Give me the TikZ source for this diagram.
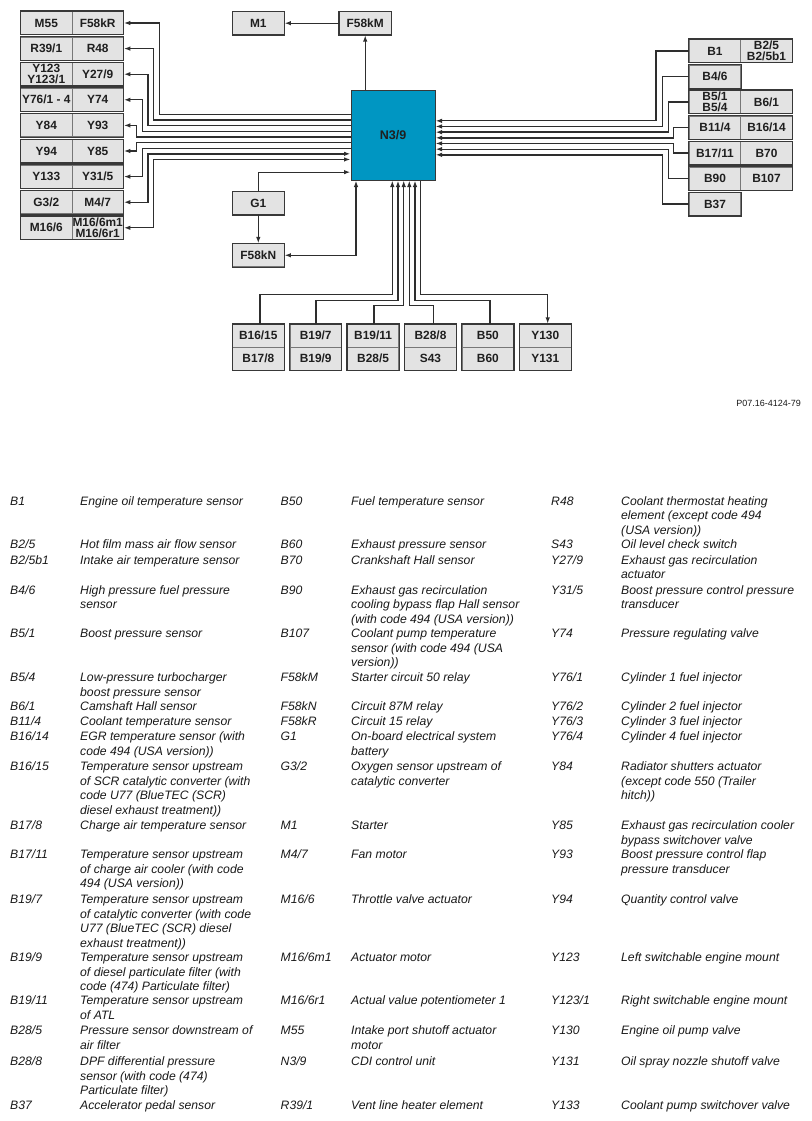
\documentclass[tikz,border=0pt]{standalone}
\usepackage{fontspec}
\setmainfont{Liberation Sans}
\usetikzlibrary{arrows.meta,calc}
\definecolor{boxfill}{HTML}{E3E3E3}
\definecolor{boxline}{HTML}{777777}
\definecolor{frameline}{HTML}{383838}
\definecolor{wirec}{HTML}{2E2E2E}
\definecolor{ecu}{HTML}{0096C2}
\tikzset{
  cell/.style={draw=boxline, line width=0.8pt, fill=boxfill, minimum width=51.5pt, minimum height=23pt,
    inner sep=0pt, align=center, text=black!88, font=\fontsize{11.9}{10.7}\selectfont\bfseries},
  frame/.style={draw=frameline, line width=1.2pt},
  wire/.style={draw=wirec, line width=1.3pt},
  ecubox/.style={draw=frameline, line width=1pt, fill=ecu, minimum width=84pt, minimum height=89.7pt,
    inner sep=0pt, text=black!88, font=\fontsize{12.5}{14}\selectfont\bfseries},
  lcode/.style={anchor=base west, inner sep=0pt, text=black!90, font=\fontsize{12.2}{14.5}\selectfont\itshape},
  ldesc/.style={anchor=north west, inner sep=0pt, align=left, text=black!90, font=\fontsize{12.2}{14.5}\selectfont\itshape},
  ref/.style={anchor=base east, inner sep=0pt, text=black!90, font=\fontsize{9}{10}\selectfont},
  >={Latex[length=6.5pt,width=4.5pt]}
}
\newcommand{\frameit}[2]{\draw[frame] (#1.north west) rectangle (#2.south east);}
% id, x code, x desc, baseline, code, description
\newcommand{\lrow}[6]{\node[lcode] (#1) at (#2,#4) {#5};
  \node[ldesc] (#1d) at (#3,#4-10.15) {\strut #6};}
\begin{document}
\begin{tikzpicture}[x=1pt,y=-1pt]
\useasboundingbox (0,0) rectangle (811,1121);

% ---------- central unit ----------
\node[ecubox] (n39) at (393,135.15) {N3/9};

% ---------- left boxes ----------
\node[cell] (m55)  at (46.3,23)    {M55};
\node[cell] (f58kr) at (97.7,23)   {F58kR};
\node[cell] (r391) at (46.3,48.6)  {R39/1};
\node[cell] (r48)  at (97.7,48.6)  {R48};
\node[cell] (y123) at (46.3,74.2)  {Y123\\Y123/1};
\node[cell] (y279) at (97.7,74.2)  {Y27/9};
\node[cell] (y761) at (46.3,99.8)  {Y76/1 - 4};
\node[cell] (y74)  at (97.7,99.8)  {Y74};
\node[cell] (y84)  at (46.3,125.4) {Y84};
\node[cell] (y93)  at (97.7,125.4) {Y93};
\node[cell] (y94)  at (46.3,151)   {Y94};
\node[cell] (y85)  at (97.7,151)   {Y85};
\node[cell] (y133) at (46.3,176.6) {Y133};
\node[cell] (y315) at (97.7,176.6) {Y31/5};
\node[cell] (g32)  at (46.3,202.2) {G3/2};
\node[cell] (m47)  at (97.7,202.2) {M4/7};
\node[cell] (m166) at (46.3,227.8) {M16/6};
\node[cell] (m166m1) at (97.7,227.8) {M16/6m1\\M16/6r1};
\frameit{m55}{f58kr}\frameit{r391}{r48}\frameit{y123}{y279}\frameit{y761}{y74}
\frameit{y84}{y93}\frameit{y94}{y85}\frameit{y133}{y315}\frameit{g32}{m47}\frameit{m166}{m166m1}

% ---------- right boxes ----------
\node[cell] (b1)    at (715,51)    {B1};
\node[cell] (b25)   at (766.5,51)  {B2/5\\B2/5b1};
\node[cell] (b46)   at (715,76.5)  {B4/6};
\node[cell] (b51)   at (715,102)   {B5/1\\B5/4};
\node[cell] (b61)   at (766.5,102) {B6/1};
\node[cell] (b114)  at (715,127.5) {B11/4};
\node[cell] (b1614) at (766.5,127.5) {B16/14};
\node[cell] (b1711) at (715,153)   {B17/11};
\node[cell] (b70)   at (766.5,153) {B70};
\node[cell] (b90)   at (715,178.5) {B90};
\node[cell] (b107)  at (766.5,178.5) {B107};
\node[cell] (b37)   at (715,204)   {B37};
\frameit{b1}{b25}\frameit{b46}{b46}\frameit{b51}{b61}\frameit{b114}{b1614}
\frameit{b1711}{b70}\frameit{b90}{b107}\frameit{b37}{b37}

% ---------- top / middle boxes ----------
\node[cell] (m1)    at (258.3,23.2) {M1};
\node[cell] (f58km) at (365.2,23.2) {F58kM};
\node[cell] (g1)    at (258.3,203)  {G1};
\node[cell] (f58kn) at (258.3,255.3) {F58kN};
\frameit{m1}{m1}\frameit{f58km}{f58km}\frameit{g1}{g1}\frameit{f58kn}{f58kn}

% ---------- bottom boxes ----------
\node[cell] (b1615) at (258.3,335.8) {B16/15};
\node[cell] (b178)  at (258.3,358.7) {B17/8};
\node[cell] (b197)  at (315.7,335.8) {B19/7};
\node[cell] (b199)  at (315.7,358.7) {B19/9};
\node[cell] (b1911) at (373.1,335.8) {B19/11};
\node[cell] (b285)  at (373.1,358.7) {B28/5};
\node[cell] (b288)  at (430.5,335.8) {B28/8};
\node[cell] (s43)   at (430.5,358.7) {S43};
\node[cell] (b50)   at (487.9,335.8) {B50};
\node[cell] (b60)   at (487.9,358.7) {B60};
\node[cell] (y130)  at (545.3,335.8) {Y130};
\node[cell] (y131)  at (545.3,358.7) {Y131};
\frameit{b1615}{b178}\frameit{b197}{b199}\frameit{b1911}{b285}
\frameit{b288}{s43}\frameit{b50}{b60}\frameit{y130}{y131}

% ---------- left wires ----------
\draw[wire,->] ([yshift=20.7pt]n39.west)  -| (f58kr.east -| 159.3,0) -- (f58kr.east);
\draw[wire,->] ([yshift=15.1pt]n39.west)  -| (r48.east -| 153.6,0)   -- (r48.east);
\draw[wire,->] ([yshift=9.4pt]n39.west)   -| (y279.east -| 147.9,0)  -- (y279.east);
\draw[wire,->] ([yshift=3.8pt]n39.west)   -| (y74.east -| 142.2,0)   -- (y74.east);
\draw[wire,->] ([yshift=-1.8pt]n39.west)  -| (y93.east -| 136.5,0)   -- (y93.east);
\draw[wire,->] ([yshift=-7.5pt]n39.west)  -| (y85.east -| 136.5,0)   -- (y85.east);
\draw[wire,->] ([yshift=-13.1pt]n39.west) -| (y315.east -| 142.2,0)  -- (y315.east);
\draw[wire,<->] ([yshift=-18.7pt]n39.west) -| (m47.east -| 147.9,0)  -- (m47.east);
\draw[wire,<->] ([yshift=-24.3pt]n39.west) -| (m166m1.east -| 153.6,0) -- (m166m1.east);

% ---------- right wires ----------
\draw[wire,<-] ([yshift=14.3pt]n39.east)  -| (b1.west -| 656,0)    -- (b1.west);
\draw[wire,<-] ([yshift=8.7pt]n39.east)   -| (b46.west -| 662.3,0) -- (b46.west);
\draw[wire,<-] ([yshift=3pt]n39.east)     -| (b51.west -| 668.3,0) -- (b51.west);
\draw[wire,<-] ([yshift=-2.7pt]n39.east)  -| (b114.west -| 673.7,0) -- (b114.west);
\draw[wire,<-] ([yshift=-8.3pt]n39.east)  -| (b1711.west -| 673.7,0) -- (b1711.west);
\draw[wire,<-] ([yshift=-14pt]n39.east)   -| (b90.west -| 668.3,0) -- (b90.west);
\draw[wire,<-] ([yshift=-19.7pt]n39.east) -| (b37.west -| 662.3,0) -- (b37.west);

% ---------- top / middle wires ----------
\draw[wire,->] (f58km.west) -- (m1.east);
\draw[wire,->] (n39.north -| f58km.south) -- (f58km.south);
\draw[wire,->] (g1.north) |- ([yshift=-37pt]n39.west);
\draw[wire,->] (g1.south) -- (f58kn.north);
\draw[wire,<->] (f58kn.east) -| ([xshift=-37pt]n39.south);

% ---------- bottom wires ----------
\draw[wire,<-] ([xshift=-0.7pt]n39.south) |- (260,294.7)   -- (b1615.north -| 260,0);
\draw[wire,<-] ([xshift=5pt]n39.south)    |- (316,300.7)   -- (b197.north -| 316,0);
\draw[wire,<-] ([xshift=10.7pt]n39.south) |- (374,305.3)   -- (b1911.north -| 374,0);
\draw[wire,<-] ([xshift=16.3pt]n39.south) |- (433.3,305.3) -- (b288.north -| 433.3,0);
\draw[wire,<-] ([xshift=22pt]n39.south)   |- (490,300.7)   -- (b50.north -| 490,0);
\draw[wire,->] ([xshift=27.7pt]n39.south) |- (547.7,294.7) -- (y130.north -| 547.7,0);

\node[ref] (refno) at (801,406.7) {P07.16-4124-79};

% ---------- legend ----------
% column 1
\lrow{a1}{10}{80}{505}{B1}{Engine oil temperature sensor}
\lrow{a2}{10}{80}{548.3}{B2/5}{Hot film mass air flow sensor}
\lrow{a3}{10}{80}{564}{B2/5b1}{Intake air temperature sensor}
\lrow{a4}{10}{80}{594}{B4/6}{High pressure fuel pressure\\sensor}
\lrow{a5}{10}{80}{637.7}{B5/1}{Boost pressure sensor}
\lrow{a6}{10}{80}{681.7}{B5/4}{Low-pressure turbocharger\\boost pressure sensor}
\lrow{a7}{10}{80}{710.7}{B6/1}{Camshaft Hall sensor}
\lrow{a8}{10}{80}{725.7}{B11/4}{Coolant temperature sensor}
\lrow{a9}{10}{80}{740.7}{B16/14}{EGR temperature sensor (with\\code 494 (USA version))}
\lrow{a10}{10}{80}{770.7}{B16/15}{Temperature sensor upstream\\of SCR catalytic converter (with\\code U77 (BlueTEC (SCR)\\diesel exhaust treatment))}
\lrow{a11}{10}{80}{829.3}{B17/8}{Charge air temperature sensor}
\lrow{a12}{10}{80}{858.3}{B17/11}{Temperature sensor upstream\\of charge air cooler (with code\\494 (USA version))}
\lrow{a13}{10}{80}{903.7}{B19/7}{Temperature sensor upstream\\of catalytic converter (with code\\U77 (BlueTEC (SCR) diesel\\exhaust treatment))}
\lrow{a14}{10}{80}{961.3}{B19/9}{Temperature sensor upstream\\of diesel particulate filter (with\\code (474) Particulate filter)}
\lrow{a15}{10}{80}{1004.7}{B19/11}{Temperature sensor upstream\\of ATL}
\lrow{a16}{10}{80}{1034.3}{B28/5}{Pressure sensor downstream of\\air filter}
\lrow{a17}{10}{80}{1065.3}{B28/8}{DPF differential pressure\\sensor (with code (474)\\Particulate filter)}
\lrow{a18}{10}{80}{1109.7}{B37}{Accelerator pedal sensor}
% column 2
\lrow{c1}{280.5}{351}{505}{B50}{Fuel temperature sensor}
\lrow{c2}{280.5}{351}{548.3}{B60}{Exhaust pressure sensor}
\lrow{c3}{280.5}{351}{564}{B70}{Crankshaft Hall sensor}
\lrow{c4}{280.5}{351}{594}{B90}{Exhaust gas recirculation\\cooling bypass flap Hall sensor\\(with code 494 (USA version))}
\lrow{c5}{280.5}{351}{637.7}{B107}{Coolant pump temperature\\sensor (with code 494 (USA\\version))}
\lrow{c6}{280.5}{351}{681.7}{F58kM}{Starter circuit 50 relay}
\lrow{c7}{280.5}{351}{710.7}{F58kN}{Circuit 87M relay}
\lrow{c8}{280.5}{351}{725.7}{F58kR}{Circuit 15 relay}
\lrow{c9}{280.5}{351}{740.7}{G1}{On-board electrical system\\battery}
\lrow{c10}{280.5}{351}{770.7}{G3/2}{Oxygen sensor upstream of\\catalytic converter}
\lrow{c11}{280.5}{351}{829.3}{M1}{Starter}
\lrow{c12}{280.5}{351}{858.3}{M4/7}{Fan motor}
\lrow{c13}{280.5}{351}{903.7}{M16/6}{Throttle valve actuator}
\lrow{c14}{280.5}{351}{961.3}{M16/6m1}{Actuator motor}
\lrow{c15}{280.5}{351}{1004.7}{M16/6r1}{Actual value potentiometer 1}
\lrow{c16}{280.5}{351}{1034.3}{M55}{Intake port shutoff actuator\\motor}
\lrow{c17}{280.5}{351}{1065.3}{N3/9}{CDI control unit}
\lrow{c18}{280.5}{351}{1109.7}{R39/1}{Vent line heater element}
% column 3
\lrow{e1}{551}{621}{505}{R48}{Coolant thermostat heating\\element (except code 494\\(USA version))}
\lrow{e2}{551}{621}{548.3}{S43}{Oil level check switch}
\lrow{e3}{551}{621}{564}{Y27/9}{Exhaust gas recirculation\\actuator}
\lrow{e4}{551}{621}{594}{Y31/5}{Boost pressure control pressure\\transducer}
\lrow{e5}{551}{621}{637.7}{Y74}{Pressure regulating valve}
\lrow{e6}{551}{621}{681.7}{Y76/1}{Cylinder 1 fuel injector}
\lrow{e7}{551}{621}{710.7}{Y76/2}{Cylinder 2 fuel injector}
\lrow{e8}{551}{621}{725.7}{Y76/3}{Cylinder 3 fuel injector}
\lrow{e9}{551}{621}{740.7}{Y76/4}{Cylinder 4 fuel injector}
\lrow{e10}{551}{621}{770.7}{Y84}{Radiator shutters actuator\\(except code 550 (Trailer\\hitch))}
\lrow{e11}{551}{621}{829.3}{Y85}{Exhaust gas recirculation cooler\\bypass switchover valve}
\lrow{e12}{551}{621}{858.3}{Y93}{Boost pressure control flap\\pressure transducer}
\lrow{e13}{551}{621}{903.7}{Y94}{Quantity control valve}
\lrow{e14}{551}{621}{961.3}{Y123}{Left switchable engine mount}
\lrow{e15}{551}{621}{1004.7}{Y123/1}{Right switchable engine mount}
\lrow{e16}{551}{621}{1034.3}{Y130}{Engine oil pump valve}
\lrow{e17}{551}{621}{1065.3}{Y131}{Oil spray nozzle shutoff valve}
\lrow{e18}{551}{621}{1109.7}{Y133}{Coolant pump switchover valve}
\end{tikzpicture}
\end{document}
